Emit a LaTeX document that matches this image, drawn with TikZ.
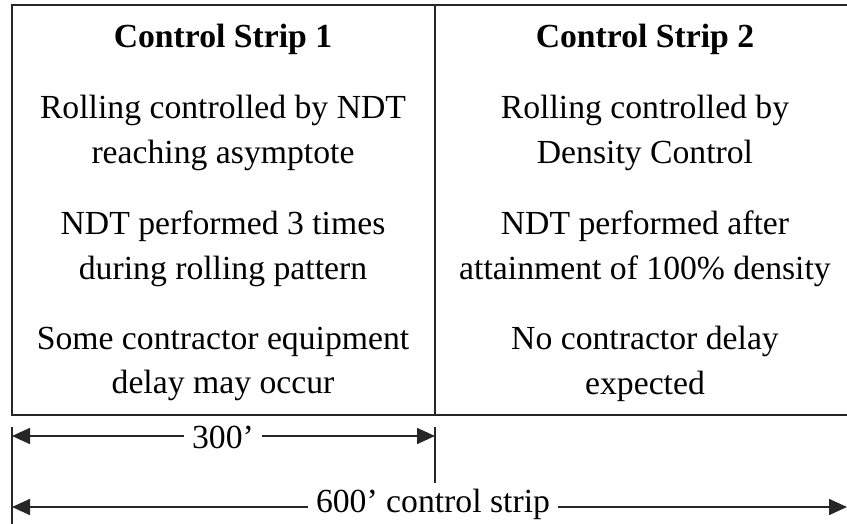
\documentclass[tikz,border=0pt]{standalone}
\usepackage{fontspec}
\setmainfont{Liberation Serif}
\usetikzlibrary{arrows.meta}
\begin{document}
\begin{tikzpicture}[x=1pt,y=-1pt,
  txt/.style={align=center,inner sep=0pt,font=\fontsize{33.7}{44.5}\selectfont},
  ttl/.style={inner sep=0pt,font=\fontsize{33.7}{44.5}\selectfont\bfseries},
  boxline/.style={line width=2.2pt,draw=black!85},
  dimline/.style={line width=1.6pt,draw=black!85},
  tip/.style={-{Triangle[length=18pt,width=16pt]}},
  lbl/.style={fill=white,inner xsep=8pt,inner ysep=2pt,font=\fontsize{33.7}{44.5}\selectfont}]
\useasboundingbox (0,0) rectangle (847,524);
% table frame
\draw[boxline] (860,5) -- (12,5) -- (12,415) -- (860,415);
\draw[boxline] (435,5) -- (435,415);
% left column
\node[ttl] (t1) at (223,39) {Control Strip 1};
\node[txt] (a1) at (223,133) {Rolling controlled by NDT\\reaching asymptote};
\node[txt] (b1) at (223,249) {NDT performed 3 times\\during rolling pattern};
\node[txt] (c1) at (223,364) {Some contractor equipment\\delay may occur};
% right column
\node[ttl] (t2) at (645,39) {Control Strip 2};
\node[txt] (a2) at (645,133) {Rolling controlled by\\Density Control};
\node[txt] (b2) at (645,249) {NDT performed after\\attainment of 100\% density};
\node[txt] (c2) at (645,364) {No contractor delay\\expected};
% dimension ticks
\coordinate (l0) at (12,427);
\coordinate (l1) at (12,524);
\coordinate (r0) at (435,427);
\coordinate (r1) at (435,483);
\draw[dimline] (l0) -- (l1);
\draw[dimline] (r0) -- (r1);
% 300'
\coordinate (a300) at (12,436);
\coordinate (b300) at (435,436);
\node[lbl] (d300) at (223,437) {300’};
\draw[dimline,tip] (d300.west |- a300) -- (a300);
\draw[dimline,tip] (d300.east |- b300) -- (b300);
% 600'
\coordinate (a600) at (12,507);
\coordinate (b600) at (847,507);
\node[lbl] (d600) at (433,504) {600’ control strip};
\draw[dimline,tip] (d600.west |- a600) -- (a600);
\draw[dimline,tip] (d600.east |- b600) -- (b600);
\end{tikzpicture}
\end{document}
